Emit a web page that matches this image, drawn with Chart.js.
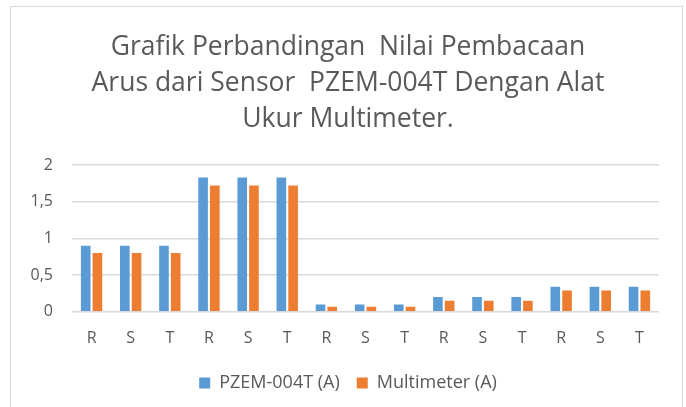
<!DOCTYPE html>
<html>
<head>
<meta charset="utf-8">
<script src="https://cdn.jsdelivr.net/npm/chart.js@4/dist/chart.umd.min.js"></script>
<style>
  html, body { margin: 0; padding: 0; background: #fff; }
  #frame {
    position: absolute; left: 10px; top: 6px; width: 673px; height: 410px;
    border: 1px solid #d9d9d9; box-sizing: border-box;
  }
  #wrap { position: absolute; left: 0; top: 0; width: 686px; height: 407px; }
</style>
</head>
<body>
<div id="frame"></div>
<div id="wrap"><canvas id="barChart"></canvas></div>
<script>
// phase labels, repeated for each load
const labels = ["R", "S", "T", "R", "S", "T", "R", "S", "T", "R", "S", "T", "R", "S", "T"];
const pzemValues = [0.9, 0.9, 0.9, 1.83, 1.83, 1.83, 0.1, 0.1, 0.1, 0.2, 0.2, 0.2, 0.34, 0.34, 0.34];
const multimeterValues = [0.8, 0.8, 0.8, 1.72, 1.72, 1.72, 0.07, 0.07, 0.07, 0.15, 0.15, 0.15, 0.29, 0.29, 0.29];
const yTicks = [0, 0.5, 1, 1.5, 2];

const textColor = "#595959";
const fontFamily = "'Open Sans', Lato, sans-serif";

// centre title and legend on the whole frame, not on the padded area
const centerOnFrame = {
  id: "centerOnFrame",
  afterLayout(chart) {
    [chart.titleBlock, chart.legend].forEach((box) => {
      if (box) {
        box.left = 10;
        box.right = 686;
      }
    });
  },
};

const ctx = document.getElementById("barChart").getContext("2d");
new Chart(ctx, {
  type: "bar",
  data: {
    labels: labels,
    datasets: [
      {
        label: "PZEM-004T (A)",
        data: pzemValues,
        backgroundColor: "#5b9bd5",
        borderWidth: 0,
        barPercentage: 0.82,
        categoryPercentage: 0.6,
      },
      {
        label: "Multimeter (A)",
        data: multimeterValues,
        backgroundColor: "#ed7d31",
        borderWidth: 0,
        barPercentage: 0.82,
        categoryPercentage: 0.6,
      },
    ],
  },
  plugins: [centerOnFrame],
  options: {
    responsive: true,
    maintainAspectRatio: false,
    animation: false,
    layout: { padding: { left: 12, right: 27, top: 14, bottom: 5 } },
    plugins: {
      title: {
        display: true,
        text: [
          "Grafik Perbandingan  Nilai Pembacaan",
          "Arus dari Sensor  PZEM-004T Dengan Alat",
          "Ukur Multimeter.",
        ],
        color: textColor,
        font: { family: fontFamily, size: 26.5, weight: "normal", lineHeight: 1.358 },
        padding: { top: 15, bottom: 28 },
      },
      legend: {
        position: "bottom",
        labels: {
          color: textColor,
          font: { family: fontFamily, size: 18 },
          boxWidth: 11,
          boxHeight: 11,
          padding: 17,
        },
      },
      tooltip: { enabled: false },
    },
    scales: {
      x: {
        grid: { display: false },
        border: { display: false },
        ticks: { color: textColor, font: { family: fontFamily, size: 16 }, padding: 9 },
      },
      y: {
        min: 0,
        max: 2,
        afterBuildTicks: (axis) => {
          axis.ticks = yTicks.map((v) => ({ value: v }));
        },
        afterFit: (axis) => {
          axis.width = 60;
        },
        grid: { color: "#d9d9d9", lineWidth: 1.5, drawTicks: false },
        border: { display: false },
        ticks: {
          color: textColor,
          font: { family: fontFamily, size: 16 },
          padding: 19,
          callback: (v) => String(v).replace(".", ","),
        },
      },
    },
  },
});
</script>
</body>
</html>
